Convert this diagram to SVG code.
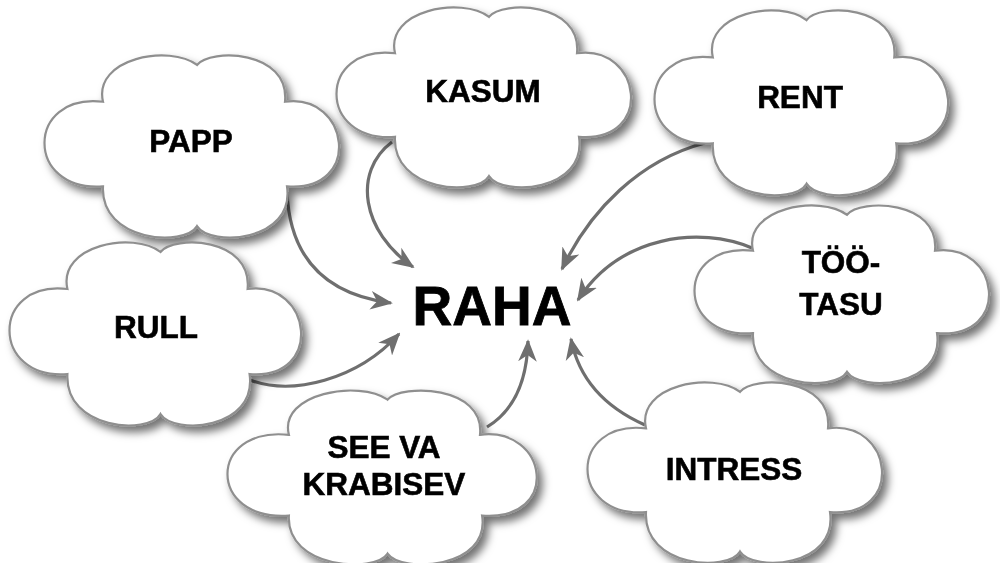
<svg xmlns="http://www.w3.org/2000/svg" width="1000" height="563" viewBox="0 0 1000 563">
<defs>
<style>
.cloud{fill:#fff;stroke:#8f8f8f;stroke-width:2.2;vector-effect:non-scaling-stroke}
.lbl{font-family:"Liberation Sans",Arial,sans-serif;font-weight:bold;font-size:31.5px;fill:#000;stroke:#000;stroke-width:0.6;text-anchor:middle}
.main{font-family:"Liberation Sans",Arial,sans-serif;font-weight:bold;font-size:55px;fill:#000;stroke:#000;stroke-width:0.8;text-anchor:middle}
.con{fill:none;stroke:#6f6f6f;stroke-width:3.2;marker-end:url(#ah)}
</style>
<filter id="sh" x="-10%" y="-10%" width="130%" height="130%">
<feDropShadow dx="5" dy="6" stdDeviation="4" flood-color="#000" flood-opacity="0.55"/>
</filter>
<marker id="ah" viewBox="0 0 12 10" refX="11" refY="5" markerWidth="7" markerHeight="6" markerUnits="strokeWidth" orient="auto">
<path d="M0,0 L12,5 L0,10 L3.5,5 z" fill="#6f6f6f"/>
</marker>
<path id="cl" class="cloud" d="M58,44 C48,0 125,-14 152,7 C165,-10 245,-8 240,44 C305,35 318,135 242,129 C250,185 165,190 152,169 C140,190 55,185 58,129 C-20,135 -20,35 58,44 Z"/>
</defs>
<rect width="1000" height="563" fill="#fff"/>
<g id="connectors">
<path class="con" d="M287,192 C290,262 330,295 391,303"/>
<path class="con" d="M392,142 C352,172 362,232 413,267"/>
<path class="con" d="M250,380 C292,396 357,380 399,334"/>
<path class="con" d="M487,427 C515,410 527,380 528,341"/>
<path class="con" d="M705,143 C640,160 590,210 562,269"/>
<path class="con" d="M752,248 C700,226 620,235 578,300"/>
<path class="con" d="M645,425 C600,405 578,375 571,339"/>
</g>
<g id="papp" filter="url(#sh)"><use href="#cl" transform="translate(45,58) scale(1,0.995)"/><text class="lbl" x="191" y="152">PAPP</text></g>
<g id="kasum" filter="url(#sh)"><use href="#cl" transform="translate(337,10) scale(1,0.983)"/><text class="lbl" x="483" y="102">KASUM</text></g>
<g id="rent" filter="url(#sh)"><use href="#cl" transform="translate(655,13) scale(0.997,1.01)"/><text class="lbl" x="800" y="108">RENT</text></g>
<g id="tootasu" filter="url(#sh)"><use href="#cl" transform="translate(695,208) scale(1,0.97)"/><text class="lbl" x="841" y="273">TÖÖ-</text><text class="lbl" x="841" y="315">TASU</text></g>
<g id="rull" filter="url(#sh)"><use href="#cl" transform="translate(10,245) scale(0.99,1)"/><text class="lbl" x="156" y="338">RULL</text></g>
<g id="seeva" filter="url(#sh)"><use href="#cl" transform="translate(228,393) scale(1.05,0.95)"/><text class="lbl" x="384" y="458">SEE VA</text><text class="lbl" x="384" y="495">KRABISEV</text></g>
<g id="intress" filter="url(#sh)"><use href="#cl" transform="translate(588,385) scale(1,0.985)"/><text class="lbl" x="734" y="480">INTRESS</text></g>
<g id="raha"><text class="main" x="492" y="325">RAHA</text></g>
</svg>
